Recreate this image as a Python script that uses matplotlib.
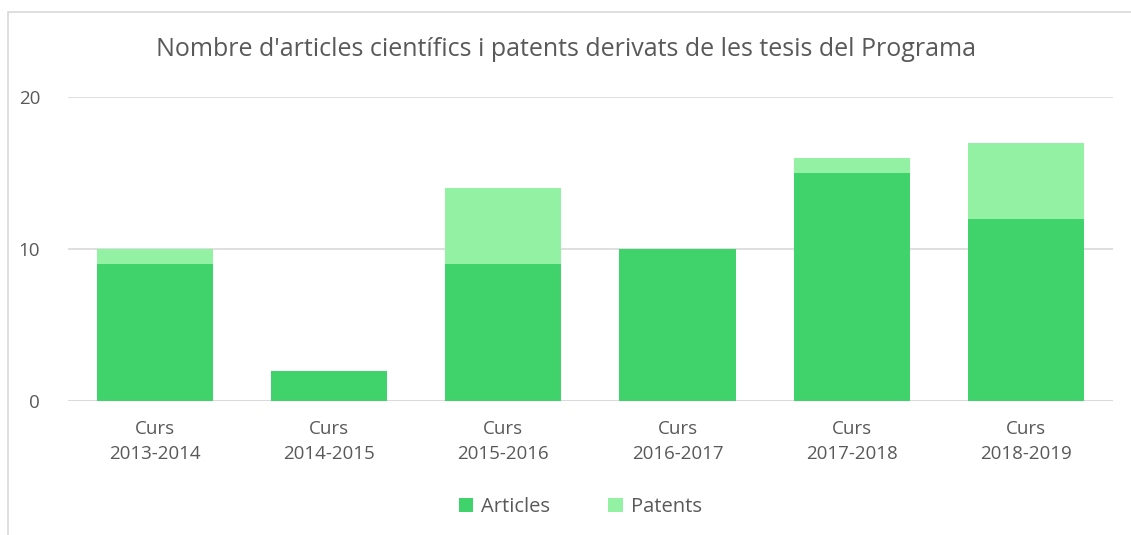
import matplotlib.pyplot as plt
from matplotlib.patches import Rectangle

# --- Dades ---
cursos = ["Curs\n2013-2014", "Curs\n2014-2015", "Curs\n2015-2016",
          "Curs\n2016-2017", "Curs\n2017-2018", "Curs\n2018-2019"]
articles = [9, 2, 9, 10, 15, 12]
patents = [1, 0, 5, 0, 1, 5]

color_articles = "#40D36C"
color_patents = "#92F1A2"
text_color = "#595959"

plt.rcParams['font.family'] = ['Open Sans', 'DejaVu Sans']

fig = plt.figure(figsize=(11.31, 5.35), dpi=100)
ax = fig.add_axes([0.0601, 0.2505, 0.924, 0.568])

x = range(len(cursos))
ax.bar(x, articles, width=0.667, color=color_articles, label="Articles", zorder=2)
ax.bar(x, patents, width=0.667, bottom=articles, color=color_patents, label="Patents", zorder=2)

ax.set_xlim(-0.5, len(cursos) - 0.5)
ax.set_ylim(0, 20)
ax.set_yticks([0, 10, 20])
ax.set_xticks(list(x))
ax.set_xticklabels(cursos, fontsize=13.5, color=text_color, linespacing=1.45)
ax.tick_params(axis='y', labelsize=13.5, labelcolor=text_color, length=0, pad=20)
ax.tick_params(axis='x', length=0, pad=14)
ax.grid(axis='y', color="#D9D9D9", linewidth=1.2, zorder=0)
for s in ax.spines.values():
    s.set_visible(False)
ax.axhline(0, color="#D9D9D9", linewidth=1.2, zorder=1)

fig.text(0.5, 0.907, "Nombre d'articles científics i patents derivats de les tesis del Programa",
         ha='center', va='center', fontsize=18, color=text_color)

ax.legend(loc='center', bbox_to_anchor=(0.513, 0.053), bbox_transform=fig.transFigure,
          ncol=2, frameon=False, fontsize=14.5, labelcolor=text_color,
          handlelength=0.7, handleheight=0.7, handletextpad=0.4, columnspacing=2.9)

# marc del gràfic
fig.patches.append(Rectangle((8 / 1131, -0.02), 1.1, 1 - 12 / 535 + 0.02,
                             transform=fig.transFigure, fill=False,
                             edgecolor="#D9D9D9", linewidth=1.2))

plt.savefig("out.png", dpi=100)
